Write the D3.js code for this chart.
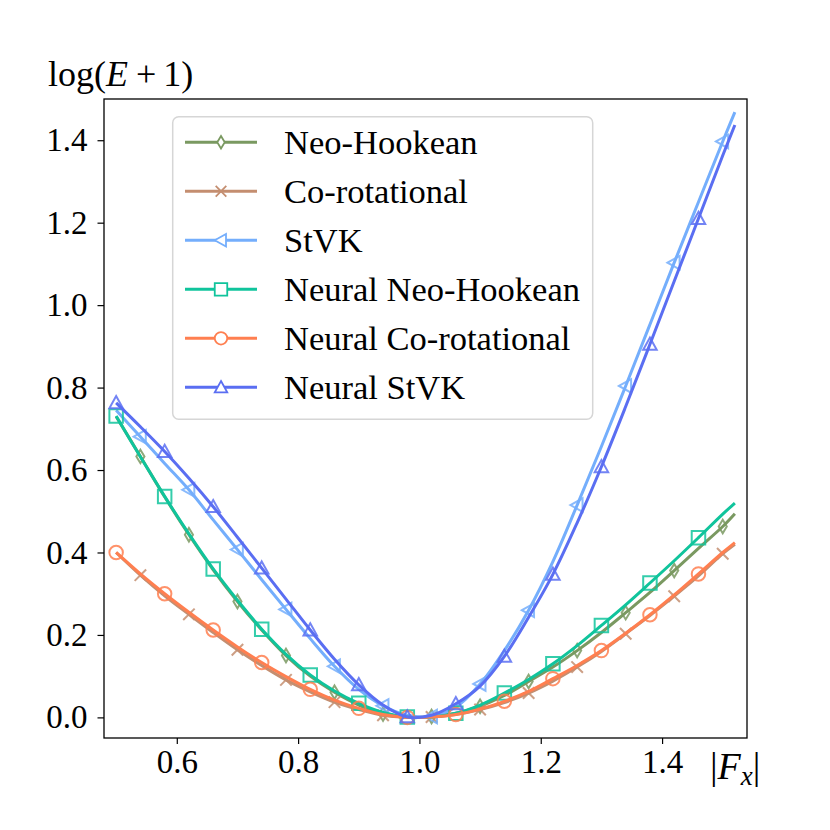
<!DOCTYPE html>
<html>
<head>
<meta charset="utf-8">
<script src="https://cdn.jsdelivr.net/npm/d3@7"></script>
<style>
  html, body { margin: 0; padding: 0; background: #fff; }
  svg text { font-family: "Liberation Serif", "DejaVu Serif", serif; fill: #000; }
</style>
</head>
<body>
<svg id="chart" width="830" height="830"></svg>
<script>
// ---- data ----
const fx = [0.50, 0.54, 0.58, 0.62, 0.66, 0.70, 0.74, 0.78, 0.82, 0.86, 0.90, 0.94, 0.98,
            1.02, 1.06, 1.10, 1.14, 1.18, 1.22, 1.26, 1.30, 1.34, 1.38, 1.42, 1.46, 1.50, 1.52];

const neoHookean = [0.730, 0.633, 0.535, 0.443, 0.358, 0.281, 0.212, 0.150, 0.100, 0.061, 0.030, 0.008, 0.000,
                    0.002, 0.010, 0.027, 0.053, 0.087, 0.122, 0.162, 0.206, 0.254, 0.303, 0.356, 0.410, 0.463, 0.494];
const coRotational = [0.400, 0.345, 0.295, 0.250, 0.206, 0.164, 0.126, 0.091, 0.062, 0.037, 0.019, 0.005, 0.000,
                      0.001, 0.007, 0.019, 0.036, 0.059, 0.088, 0.122, 0.160, 0.203, 0.247, 0.294, 0.343, 0.397, 0.420];
const stvk = [0.745, 0.681, 0.616, 0.552, 0.479, 0.407, 0.334, 0.262, 0.191, 0.124, 0.068, 0.028, 0.005,
              0.002, 0.025, 0.081, 0.162, 0.260, 0.378, 0.515, 0.657, 0.804, 0.953, 1.103, 1.250, 1.397, 1.468];
const neuralNeoHookean = [0.731, 0.632, 0.536, 0.445, 0.360, 0.284, 0.214, 0.153, 0.103, 0.064, 0.034, 0.012, 0.001,
                          0.001, 0.010, 0.030, 0.059, 0.092, 0.130, 0.174, 0.223, 0.273, 0.326, 0.380, 0.436, 0.493, 0.520];
const neuralCoRotational = [0.400, 0.348, 0.300, 0.255, 0.212, 0.171, 0.133, 0.099, 0.068, 0.042, 0.022, 0.007, 0.000,
                            0.001, 0.007, 0.020, 0.039, 0.063, 0.094, 0.126, 0.162, 0.204, 0.249, 0.297, 0.348, 0.400, 0.424];
const neuralStvk = [0.763, 0.705, 0.645, 0.580, 0.511, 0.437, 0.362, 0.287, 0.212, 0.141, 0.079, 0.030, 0.001,
                    0.005, 0.033, 0.076, 0.148, 0.243, 0.347, 0.472, 0.608, 0.754, 0.905, 1.058, 1.210, 1.363, 1.437];

const seriesNames = ["Neo-Hookean", "Co-rotational", "StVK", "Neural Neo-Hookean", "Neural Co-rotational", "Neural StVK"];
const seriesValues = [neoHookean, coRotational, stvk, neuralNeoHookean, neuralCoRotational, neuralStvk];
const seriesColors = ["#7a9961", "#c48e70", "#74aefc", "#10c49c", "#ff7f50", "#5a6ef2"];
const seriesMarkers = ["thinDiamond", "x", "triLeft", "square", "circle", "triUp"];
const markerOffset = [1, 1, 1, 0, 0, 0];   // which samples carry a marker (every 2nd)

const xTicks = [0.6, 0.8, 1.0, 1.2, 1.4];
const yTicks = [0.0, 0.2, 0.4, 0.6, 0.8, 1.0, 1.2, 1.4];

// ---- layout ----
const svg = d3.select("#chart");
const L = 104, R = 747, T = 99, B = 738;
const x = d3.scaleLinear().domain([0.48, 1.54]).range([L, R]);
const y = d3.scaleLinear().domain([-0.05, 1.5]).range([B, T]);

const FONT = 33;

function markerPath(type, s) {
  const h = s / 2;
  switch (type) {
    case "square": return `M${-h},${-h}H${h}V${h}H${-h}Z`;
    case "circle": return `M${h},0A${h},${h} 0 1,1 ${-h},0A${h},${h} 0 1,1 ${h},0Z`;
    case "triUp": return `M0,${-h}L${h},${h * 0.8}L${-h},${h * 0.8}Z`;
    case "triLeft": return `M${-h},0L${h * 0.8},${-h}L${h * 0.8},${h}Z`;
    case "thinDiamond": return `M0,${-h}L${h * 0.6},0L0,${h}L${-h * 0.6},0Z`;
    case "x": { const k = h * 0.85; return `M${-k},${-k}L${k},${k}M${-k},${k}L${k},${-k}`; }
  }
}

const plot = svg.append("g");
svg.append("clipPath").attr("id", "clip")
  .append("rect").attr("x", L).attr("y", T).attr("width", R - L).attr("height", B - T);

const line = d3.line().x((d, i) => x(fx[i])).y(d => y(d)).curve(d3.curveCatmullRom.alpha(0.5));

const marksG = plot.append("g").attr("clip-path", "url(#clip)");
seriesValues.forEach((vals, si) => {
  const g = marksG.append("g");
  g.append("path")
    .attr("d", line(vals))
    .attr("fill", "none")
    .attr("stroke", seriesColors[si])
    .attr("stroke-width", 3)
    .attr("stroke-linejoin", "round");
  const pts = vals.map((v, i) => ({ v, i })).filter(d => d.i % 2 === markerOffset[si] && fx[d.i] <= 1.50 + 1e-9);
  g.selectAll("path.mk").data(pts).join("path")
    .attr("class", "mk")
    .attr("transform", d => `translate(${x(fx[d.i])},${y(d.v)})`)
    .attr("d", markerPath(seriesMarkers[si], 13.5))
    .attr("fill", "none")
    .attr("stroke", seriesColors[si])
    .attr("stroke-opacity", 0.85)
    .attr("stroke-width", 2);
});

svg.append("rect").attr("x", L).attr("y", T).attr("width", R - L).attr("height", B - T)
  .attr("fill", "none").attr("stroke", "#000").attr("stroke-width", 1.3);

const xAxis = svg.append("g").attr("transform", `translate(0,${B})`)
  .call(d3.axisBottom(x).tickValues(xTicks).tickFormat(d3.format(".1f")).tickSize(6).tickSizeOuter(0).tickPadding(6));
xAxis.select(".domain").remove();
xAxis.selectAll("line").attr("stroke", "#000").attr("stroke-width", 1.2);
xAxis.selectAll("text").attr("font-size", FONT).attr("font-family", "Liberation Serif");

const yAxis = svg.append("g").attr("transform", `translate(${L},0)`)
  .call(d3.axisLeft(y).tickValues(yTicks).tickFormat(d3.format(".1f")).tickSize(6.5).tickSizeOuter(0).tickPadding(10));
yAxis.select(".domain").remove();
yAxis.selectAll("line").attr("stroke", "#000").attr("stroke-width", 1.2);
yAxis.selectAll("text").attr("font-size", FONT).attr("font-family", "Liberation Serif");

// axis labels
const yl = svg.append("text").attr("x", 48).attr("y", 86).attr("font-size", 36);
yl.append("tspan").text("log(");
yl.append("tspan").attr("font-style", "italic").text("E");
yl.append("tspan").attr("dx", 8).text("+");
yl.append("tspan").attr("dx", 7).text("1)");

const xl = svg.append("text").attr("x", 710).attr("y", 779).attr("font-size", 38);
xl.append("tspan").text("|");
xl.append("tspan").attr("font-style", "italic").text("F");
xl.append("tspan").attr("font-style", "italic").attr("font-size", 27).attr("dy", 6).text("x");
xl.append("tspan").attr("dy", -6).text("|");

// legend
const lg = svg.append("g");
lg.append("rect").attr("x", 172.7).attr("y", 116.7).attr("width", 420).attr("height", 302.6)
  .attr("rx", 6).attr("fill", "#fff").attr("fill-opacity", 0.8)
  .attr("stroke", "#d6d6d6").attr("stroke-width", 1.5);
seriesNames.forEach((name, si) => {
  const ry = 142.3 + si * 49;
  lg.append("line").attr("x1", 185).attr("x2", 257).attr("y1", ry).attr("y2", ry)
    .attr("stroke", seriesColors[si]).attr("stroke-width", 3);
  lg.append("path").attr("transform", `translate(221,${ry})`)
    .attr("d", markerPath(seriesMarkers[si], 12.5))
    .attr("fill", "#fff").attr("stroke", seriesColors[si]).attr("stroke-width", 1.8);
  lg.append("text").attr("x", 284).attr("y", ry + 11.5).attr("font-size", 34.5).text(name);
});
</script>
</body>
</html>
